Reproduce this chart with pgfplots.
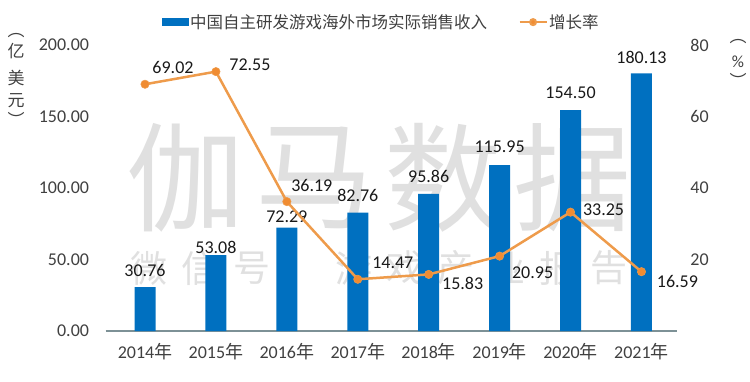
\documentclass[border=0pt]{standalone}
\usepackage{fontspec}
\setmainfont{Carlito}
\newfontfamily\cjk{Noto Sans CJK SC}
\usepackage{pgfplots}
\pgfplotsset{compat=1.18}
\definecolor{barblue}{RGB}{0,112,192}
\definecolor{lineor}{RGB}{238,155,75}
\definecolor{markor}{RGB}{240,140,50}
\definecolor{wm}{RGB}{224,224,224}
\definecolor{txt}{RGB}{64,64,64}
\definecolor{lbl}{RGB}{25,25,25}
\definecolor{base}{RGB}{125,145,150}
\begin{document}
\begin{tikzpicture}[x=1pt,y=1pt]
\useasboundingbox (0pt,0pt) rectangle (750pt,381pt);
% watermark
\foreach \c/\xx in {伽/185,马/314,数/443,据/572}{
  \node[text=wm,font=\cjk\fontsize{118}{118}\selectfont,inner sep=0pt] at (\xx pt,203pt) {\c};}
\foreach \c/\xx in {微/149,信/200,号/252,：/303,游/354,戏/405,产/456,业/507,报/558,告/609}{
  \node[text=wm,font=\cjk\fontsize{37}{37}\selectfont,inner sep=0pt] at (\xx pt,113pt) {\c};}
% axis titles (vertical)
\foreach \c/\yy in {︵/345,亿/330,美/303,元/280,︶/262}{
  \node[text=txt,font=\cjk\fontsize{17}{17}\selectfont,inner sep=0pt] at (16pt,\yy pt) {\c};}
\node[text=txt,font=\cjk\fontsize{17}{17}\selectfont,inner sep=0pt] at (738pt,339pt) {︵};
\node[text=txt,font=\fontsize{17}{17}\selectfont,inner sep=0pt] at (738pt,319pt) {\%};
\node[text=txt,font=\cjk\fontsize{17}{17}\selectfont,inner sep=0pt] at (738pt,301pt) {︶};

\begin{axis}[
  at={(145pt,50pt)}, anchor=origin, scale only axis,
  width=567.4pt, height=286pt,
  ybar, bar width=21pt,
  xmin=-0.5, xmax=7.5, ymin=0, ymax=200,
  xtick={0,...,7},
  xticklabels={{2014{\cjk 年}},{2015{\cjk 年}},{2016{\cjk 年}},{2017{\cjk 年}},{2018{\cjk 年}},{2019{\cjk 年}},{2020{\cjk 年}},{2021{\cjk 年}}},
  ytick={0,50,100,150,200},
  yticklabels={0.00,50.00,100.00,150.00,200.00},
  /pgf/number format/assume math mode=true,
  axis line style={draw=none},
  xtick pos=bottom, ytick pos=left,
  major tick length=0pt,
  ticklabel style={font=\fontsize{18}{20}\selectfont, text=txt},
  yticklabel style={xshift=-17pt},
  xticklabel style={yshift=-9pt},
  clip=false,
]
\draw[base, line width=1.2pt] ([xshift=-4pt]rel axis cs:0,0) -- (rel axis cs:1,0);
\addplot[fill=barblue, draw=none] coordinates {
  (0,30.76) (1,53.08) (2,72.29) (3,82.76) (4,95.86) (5,115.95) (6,154.50) (7,180.13)};
\begin{scope}[every node/.style={font=\fontsize{18}{20}\selectfont, text=lbl, inner sep=0pt}]
\node at (axis cs:0,30.76) [yshift=17pt] {30.76};
\node at (axis cs:1,53.08) [yshift=8pt] {53.08};
\node at (axis cs:2,72.29) [yshift=11pt] {72.29};
\node at (axis cs:3,82.76) [yshift=17pt] {82.76};
\node at (axis cs:4,95.86) [yshift=17pt] {95.86};
\node at (axis cs:5,115.95) [yshift=18pt] {115.95};
\node at (axis cs:6,154.50) [yshift=17pt] {154.50};
\node at (axis cs:7,180.13) [yshift=16pt] {180.13};
\end{scope}
\end{axis}

\begin{axis}[
  at={(145pt,50pt)}, anchor=origin, scale only axis,
  width=567.4pt, height=286pt,
  xmin=-0.5, xmax=7.5, ymin=0, ymax=80,
  hide x axis,
  axis line style={draw=none},
  ytick pos=right, yticklabel pos=right,
  ytick={20,40,60,80},
  /pgf/number format/assume math mode=true,
  major tick length=0pt,
  ticklabel style={font=\fontsize{18}{20}\selectfont, text=txt},
  yticklabel style={xshift=10pt},
  clip=false,
  legend columns=2,
  legend style={draw=none, fill=none, inner sep=0pt,
    at={(0.0924,1.080)}, anchor=west,
    font=\cjk\fontsize{16.5}{18}\selectfont, text=txt,
    nodes={inner sep=1.5pt},
    /tikz/every even column/.append style={column sep=30pt}},
]
\addlegendimage{legend image code/.code={\fill[barblue] (0pt,-3.5pt) rectangle (26pt,3.5pt);}}
\addlegendentry{中国自主研发游戏海外市场实际销售收入}
\addplot[lineor, line width=2.5pt, mark=*, mark size=4.2pt,
  mark options={fill=markor, draw=lineor, line width=0.5pt},
  legend image code/.code={\draw[lineor, line width=2pt, mark=*, mark size=3pt, mark options={fill=markor,draw=lineor}, mark repeat=2, mark phase=2] plot coordinates {(0pt,0pt) (13.5pt,0pt) (27pt,0pt)};}]
  coordinates {(0,69.02) (1,72.55) (2,36.19) (3,14.47) (4,15.83) (5,20.95) (6,33.25) (7,16.59)};
\addlegendentry{增长率}
\begin{scope}[every node/.style={font=\fontsize{18}{20}\selectfont, text=lbl, inner sep=0pt}]
\node at (axis cs:0,69.02) [xshift=28pt, yshift=17pt] {69.02};
\node at (axis cs:1,72.55) [xshift=34pt, yshift=7pt] {72.55};
\node at (axis cs:2,36.19) [xshift=25pt, yshift=16pt] {36.19};
\node at (axis cs:3,14.47) [xshift=35pt, yshift=16pt] {14.47};
\node at (axis cs:4,15.83) [xshift=34pt, yshift=-9pt] {15.83};
\node at (axis cs:5,20.95) [xshift=33pt, yshift=-17pt] {20.95};
\node at (axis cs:6,33.25) [xshift=33pt, yshift=2pt] {33.25};
\node at (axis cs:7,16.59) [xshift=36pt, yshift=-10pt] {16.59};
\end{scope}
\end{axis}
\end{tikzpicture}
\end{document}
